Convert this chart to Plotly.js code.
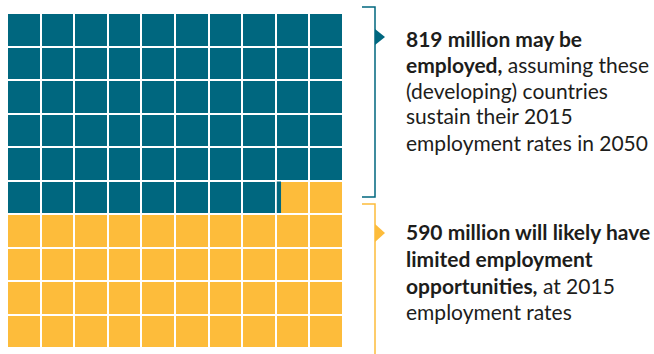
<!DOCTYPE html>
<html>
<head>
<meta charset="utf-8">
<script src="https://cdn.plot.ly/plotly-3.0.1.min.js"></script>
<style>html,body{margin:0;padding:0;background:#fff;}#chart{width:654px;height:354px;}</style>
</head>
<body>
<div id="chart"></div>
<script>
// ---- data ----
const categories = ["Employed", "Limited employment opportunities"];
const valuesMillions = [819, 590];
const gridRows = 10;
const gridCols = 10;
const labelLines = [
  ["<b>819 million may be</b>", "<b>employed,</b> assuming these", "(developing) countries", "sustain their 2015", "employment rates in 2050"],
  ["<b>590 million will likely have</b>", "<b>limited employment</b>", "<b>opportunities,</b> at 2015", "employment rates"]
];

// ---- styles ----
const TEAL = "#00677f";
const YELLOW = "#fdbc3b";
const W = 654, H = 354;
const px = x => x / W;
const py = y => 1 - y / H;

const total = valuesMillions.reduce((a, b) => a + b, 0);
const nCells = gridRows * gridCols;
const tealCells = valuesMillions[0] / total * nCells;
const fullTeal = Math.floor(tealCells);
const frac = tealCells - fullTeal;

const z = [];
for (let r = 0; r < gridRows; r++) {
  const row = [];
  for (let c = 0; c < gridCols; c++) {
    const idx = r * gridCols + c;
    row.push(idx < fullTeal ? 0 : 1);
  }
  z.push(row);
}

const gapPx = 2;
const cellPx = 33.6;
const partialRow = Math.floor(fullTeal / gridCols);
const partialCol = fullTeal % gridCols;

const traces = [
  {
    type: "heatmap",
    z: z,
    x: [...Array(gridCols).keys()],
    y: [...Array(gridRows).keys()],
    colorscale: [[0, TEAL], [0.5, TEAL], [0.5, YELLOW], [1, YELLOW]],
    zmin: 0, zmax: 1,
    showscale: false,
    xgap: gapPx, ygap: gapPx,
    hoverinfo: "skip"
  },
  {
    type: "bar",
    orientation: "h",
    y: [partialRow],
    x: [frac],
    base: [partialCol - 0.5 + (gapPx / 2) / cellPx],
    width: [1 - gapPx / cellPx],
    marker: { color: TEAL, line: { width: 0 } },
    hoverinfo: "skip",
    showlegend: false
  }
];

const textFont = { family: "Lato, 'Open Sans', sans-serif", size: 21, color: "#1d1d1b" };
const blockTops = [38, 232];
const lineStep = [26, 26.5];
const annotations = [];
labelLines.forEach((lines, b) => {
  lines.forEach((t, i) => {
    annotations.push({
      xref: "paper", yref: "paper", x: px(404), y: py(blockTops[b] + i * lineStep[b]),
      xanchor: "left", yanchor: "middle", text: t, showarrow: false, align: "left", font: textFont
    });
  });
});

const layout = {
  width: W, height: H,
  margin: { l: 0, r: 0, t: 0, b: 0, pad: 0 },
  paper_bgcolor: "#fff", plot_bgcolor: "#fff",
  showlegend: false,
  xaxis: { domain: [px(7), px(343)], range: [-0.5, gridCols - 0.5], visible: false, fixedrange: true },
  yaxis: { domain: [py(348), py(13)], range: [gridRows - 0.5, -0.5], visible: false, fixedrange: true },
  shapes: [
    { type: "path", xref: "paper", yref: "paper",
      path: `M ${px(362)},${py(7)} L ${px(375)},${py(7)} L ${px(375)},${py(197)} L ${px(362)},${py(197)}`,
      line: { color: TEAL, width: 1.5 } },
    { type: "path", xref: "paper", yref: "paper",
      path: `M ${px(375)},${py(29)} L ${px(385)},${py(37)} L ${px(375)},${py(45)} Z`,
      fillcolor: TEAL, line: { width: 0 } },
    { type: "path", xref: "paper", yref: "paper",
      path: `M ${px(362)},${py(204)} L ${px(375)},${py(204)} L ${px(375)},${py(356)}`,
      line: { color: YELLOW, width: 1.5 } },
    { type: "path", xref: "paper", yref: "paper",
      path: `M ${px(375)},${py(224)} L ${px(385)},${py(233)} L ${px(375)},${py(242)} Z`,
      fillcolor: YELLOW, line: { width: 0 } }
  ],
  annotations: annotations
};

Plotly.newPlot("chart", traces, layout, { staticPlot: true, displayModeBar: false });
</script>
</body>
</html>
